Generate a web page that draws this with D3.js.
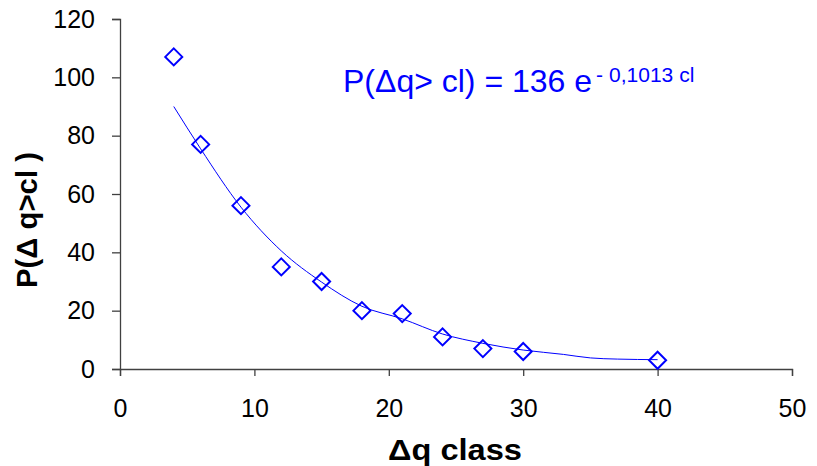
<!DOCTYPE html>
<html>
<head>
<meta charset="utf-8">
<script src="https://cdn.jsdelivr.net/npm/d3@7"></script>
<style>
  body { margin: 0; background: #fff; }
  svg { font-family: "Liberation Sans", Arial, sans-serif; }
</style>
</head>
<body>
<svg id="chart" width="817" height="466"></svg>
<script>
// observed points
var classes = [4, 6, 9, 12, 15, 18, 21, 24, 27, 30, 40];
var probs = [107, 77, 56, 35, 30, 20, 19, 11, 7, 6, 3];

// trend line
var trendX = [4, 6, 9, 12, 15, 18, 21, 24, 27, 30, 33, 35, 37, 40];
var trendY = [90, 75.5, 55.5, 40.5, 29.8, 21.5, 17.2, 12, 8.8, 6.5, 5, 3.8, 3.4, 3.2];

var xTicks = [0, 10, 20, 30, 40, 50];
var yTicks = [0, 20, 40, 60, 80, 100, 120];

var blue = "#0000ff";
var svg = d3.select("#chart");

var x = d3.scaleLinear().domain([0, 50]).range([120, 792]);
var y = d3.scaleLinear().domain([0, 120]).range([369, 19]);

// axes
var xAxis = svg.append("g")
    .attr("transform", "translate(0," + y(0) + ")")
    .call(d3.axisBottom(x).tickValues(xTicks).tickSize(7).tickPadding(23));
var yAxis = svg.append("g")
    .attr("transform", "translate(" + x(0) + ",0)")
    .call(d3.axisLeft(y).tickValues(yTicks).tickSize(8).tickPadding(17));

[xAxis, yAxis].forEach(function(a) {
    a.select(".domain").attr("stroke", "#404040").attr("stroke-width", 1.3);
    a.selectAll(".tick line").attr("stroke", "#404040").attr("stroke-width", 1.3);
    a.selectAll(".tick text").attr("fill", "#000")
        .style("font-size", "25px")
        .style("font-family", "'Liberation Sans', Arial, sans-serif");
});

// trend line
var line = d3.line()
    .x(function(d) { return x(d[0]); })
    .y(function(d) { return y(d[1]); })
    .curve(d3.curveMonotoneX);

svg.append("path")
    .datum(d3.zip(trendX, trendY))
    .attr("d", line)
    .attr("fill", "none")
    .attr("stroke", blue)
    .attr("stroke-width", 1);

// diamonds
var r = 8.5;
svg.selectAll("path.pt")
    .data(d3.zip(classes, probs))
    .enter().append("path")
    .attr("class", "pt")
    .attr("d", "M0," + (-r) + "L" + r + ",0L0," + r + "L" + (-r) + ",0Z")
    .attr("transform", function(d) { return "translate(" + x(d[0]) + "," + y(d[1]) + ")"; })
    .attr("fill", "none")
    .attr("stroke", blue)
    .attr("stroke-width", 2);

// equation
var eq = svg.append("text")
    .attr("x", 343)
    .attr("y", 92)
    .attr("fill", blue)
    .style("font-size", "32px");
eq.append("tspan").text("P(\u0394q> cl) = 136 e");
eq.append("tspan")
    .attr("dy", -10)
    .attr("dx", 4)
    .style("font-size", "21px")
    .text("-");
eq.append("tspan")
    .attr("dx", 6)
    .style("font-size", "21px")
    .text("0,1013 cl");

// axis titles
svg.append("text")
    .attr("x", 388)
    .attr("y", 460)
    .attr("textLength", 134)
    .attr("lengthAdjust", "spacingAndGlyphs")
    .style("font-size", "29px")
    .style("font-weight", "bold")
    .text("\u0394q class");

svg.append("text")
    .attr("transform", "translate(37,288) rotate(-90)")
    .attr("textLength", 136)
    .attr("lengthAdjust", "spacingAndGlyphs")
    .style("font-size", "30px")
    .style("font-weight", "bold")
    .text("P(\u0394 q>cl )");
</script>
</body>
</html>
